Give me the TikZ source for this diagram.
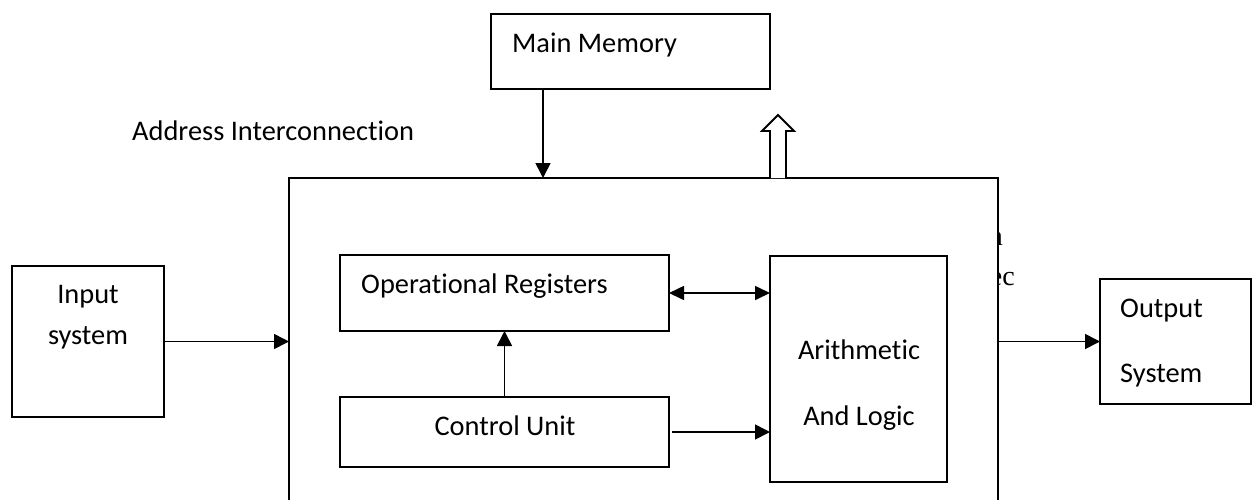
\documentclass[tikz,border=0pt]{standalone}
\usepackage{fontspec}
\setmainfont[RawFeature=-liga]{Carlito}
\newfontfamily\seriffont{Liberation Serif}
\usetikzlibrary{arrows.meta}
\begin{document}
\begin{tikzpicture}[x=1pt,y=-1pt,
 box/.style={draw, line width=1.8pt, fill=white, inner sep=0pt, outer sep=0pt},
 lbl/.style={font=\fontsize{28.4}{34}\selectfont, inner sep=0pt},
 frag/.style={font=\seriffont\fontsize{28}{34}\selectfont, inner sep=0pt},
 conn/.style={line width=1.6pt, -{Triangle[length=15pt,width=15pt]}},
 dconn/.style={line width=1.6pt, {Triangle[length=15pt,width=14pt]}-{Triangle[length=15pt,width=14pt]}}]
\useasboundingbox (0,0) rectangle (1252,499);
\clip (0,0) rectangle (1252,499);
% partially hidden text behind the processor box
\node[frag, anchor=base east] (fragA) at (1003,245) {n};
\node[frag, anchor=base east] (fragB) at (1015,285) {ec};
% processor box (open at the bottom of the picture)
\node[box, minimum width=709pt, minimum height=400pt, anchor=north west] (cpu) at (289,178) {};
% boxes
\node[box, minimum width=279pt, minimum height=75pt, anchor=north west] (mm) at (491,14) {};
\node[box, minimum width=152pt, minimum height=151pt, anchor=north west] (inp) at (12,266) {};
\node[box, minimum width=151pt, minimum height=125pt, anchor=north west] (out) at (1100,279) {};
\node[box, minimum width=329pt, minimum height=76pt, anchor=north west] (reg) at (340,255) {};
\node[box, minimum width=329pt, minimum height=70pt, anchor=north west] (ctl) at (340,397) {};
\node[box, minimum width=177pt, minimum height=226pt, anchor=north west] (alu) at (770,256) {};
% texts
\node[lbl, anchor=base west] (tMM) at (512,52) {Main Memory};
\node[lbl, anchor=base west] (tAddr) at (132,140) {Address Interconnection};
\node[lbl, anchor=base west] (tReg) at (361,293) {Operational Registers};
\node[lbl, anchor=base] (tCtl) at (505,435) {Control Unit};
\node[lbl, anchor=base] (tAr) at (859,359) {Arithmetic};
\node[lbl, anchor=base] (tAL) at (859,425) {And Logic};
\node[lbl, anchor=base] (tIn) at (88,303) {Input};
\node[lbl, anchor=base] (tSys) at (88,344) {system};
\node[lbl, anchor=base west] (tOut) at (1120,317) {Output};
\node[lbl, anchor=base west] (tOS) at (1120,382) {System};
% hollow bus arrow
\draw[line width=1.8pt, fill=white] (770,178) -- (770,131) -- (762,131) -- (778,115) -- (794,131) -- (786,131) -- (786,178);
% connectors
\coordinate (mmOut) at ([xshift=52pt]mm.south west);
\draw[conn] (mmOut) -- (mmOut |- cpu.north);
\draw[conn] (inp.east) -- (inp.east -| cpu.west);
\draw[conn] (cpu.east |- out.west) -- (out.west);
\draw[dconn] (reg.east) -- (reg.east -| alu.west);
\coordinate (ctlOut) at ([xshift=3pt]ctl.east);
\draw[conn] (ctlOut) -- (ctlOut -| alu.west);
\draw[conn] (ctl.north) -- (reg.south);
\end{tikzpicture}
\end{document}
